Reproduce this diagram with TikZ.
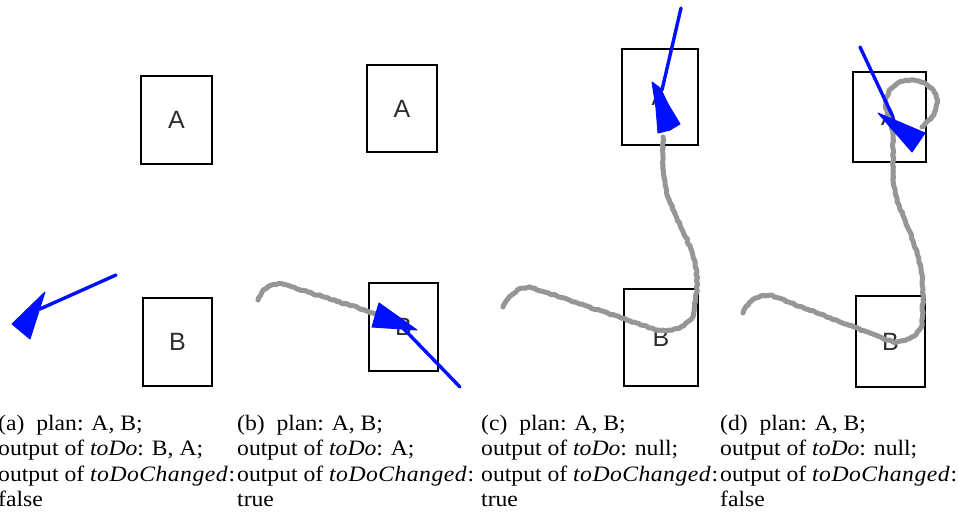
\documentclass[tikz,border=0pt]{standalone}
\usepackage{fontspec}
\setmainfont{Liberation Serif}
\newfontfamily\boxfont{Liberation Sans}
\usetikzlibrary{decorations.pathmorphing}
\definecolor{trail}{RGB}{150,150,150}
\definecolor{heading}{RGB}{0,16,255}
\definecolor{boxtext}{RGB}{45,45,45}
\newcommand{\vname}[1]{{\itshape #1\/}}
\newcommand{\mname}[1]{{\itshape\addfontfeature{LetterSpace=2}#1\/}}
\newcommand{\capt}[3]{\scalebox{1.075}[1]{\parbox[t]{225pt}{\fontsize{22}{25.5}\selectfont\raggedright
(#1)\hspace{0.25em} plan: A, B;\\
output of \vname{toDo}: #2;\\
output of \mname{toDoChanged}\kern0.5pt:\\
#3}}}
\begin{document}
\pgfmathsetseed{7}
\begin{tikzpicture}[x=1pt,y=-1pt,
  goal/.style={draw=black,line width=1.8pt,inner sep=0pt,font=\boxfont\fontsize{25}{25}\selectfont,text=boxtext},
  trailpath/.style={draw=trail,line width=5pt,line join=round,line cap=round,
    decorate,decoration={random steps,segment length=2.5pt,amplitude=0.7pt}},
  headline/.style={draw=heading,line width=3.4pt,line cap=round},
  headtip/.style={fill=heading,draw=heading,line width=1pt,line join=round},
  caption/.style={anchor=base west,inner sep=0pt}]
\useasboundingbox (0,0) rectangle (958,522);

% ---------- (a) ----------
\node[goal,minimum width=71pt,minimum height=88pt] (aA) at (176.5,120) {A};
\node[goal,minimum width=69pt,minimum height=88pt] (aB) at (177.5,342) {B};
\coordinate (aH0) at (116,275);
\coordinate (aH1) at (40,309);
\draw[headline] (aH0) -- (aH1);
\fill[headtip] (45,292) -- (12,324) -- (30,339) -- cycle;

% ---------- (b) ----------
\node[goal,minimum width=70pt,minimum height=87pt] (bA) at (402,108.5) {A};
\node[goal,minimum width=69pt,minimum height=88pt] (bB) at (403.5,327) {B};
\draw[trailpath] (258,300) .. controls (262,290) and (270,283) .. (282,284)
  .. controls (310,293) and (345,303) .. (376,314);
\coordinate (bH0) at (460,387);
\coordinate (bH1) at (400,325);
\draw[headline] (bH0) -- (bH1);
\fill[headtip] (379,303) -- (372,327) -- (417,330) -- cycle;

% ---------- (c) ----------
\node[goal,minimum width=76pt,minimum height=96pt] (cA) at (660,97) {A};
\node[goal,minimum width=74pt,minimum height=97pt] (cB) at (661,337.5) {B};
\draw[trailpath] (503,307) .. controls (507,297) and (516,288) .. (530,287)
  -- (657,330) .. controls (672,333) and (688,326) .. (693,316)
  -- (697,290) .. controls (698,262) and (690,245) .. (680,225)
  .. controls (668,200) and (663,185) .. (663,160) -- (663,137);
\coordinate (cH0) at (681,8);
\coordinate (cH1) at (662,90);
\draw[headline] (cH0) -- (cH1);
\fill[headtip] (652,82) -- (660,88) -- (668,104) -- (680,124) -- (670,130)
  -- (658,133) -- (656,108) -- cycle;

% ---------- (d) ----------
\node[goal,minimum width=73pt,minimum height=90pt] (dA) at (889.5,117) {A};
\node[goal,minimum width=69pt,minimum height=91pt] (dB) at (890.5,341.5) {B};
\draw[trailpath] (743,313) .. controls (747,303) and (756,295) .. (770,295)
  -- (893,342) .. controls (906,342) and (918,336) .. (922,325)
  -- (923,300) .. controls (924,265) and (913,240) .. (905,220)
  .. controls (896,200) and (893,190) .. (893,170) -- (893,135)
  to[out=95,in=270] (886,103) to[out=90,in=180] (911,80)
  to[out=0,in=90] (937,103) to[out=270,in=45] (922,127);
\coordinate (dH0) at (860,47);
\coordinate (dH1) at (893,117);
\draw[headline] (dH0) -- (dH1);
\fill[headtip] (878,113) -- (925,133) -- (912,152) -- cycle;

% ---------- captions ----------
\node[caption] (capa) at (-2,430) {\capt{a}{B, A}{false}};
\node[caption] (capb) at (237,430) {\capt{b}{A}{true}};
\node[caption] (capc) at (481,430) {\capt{c}{null}{true}};
\node[caption] (capd) at (720,430) {\capt{d}{null}{false}};
\end{tikzpicture}
\end{document}
